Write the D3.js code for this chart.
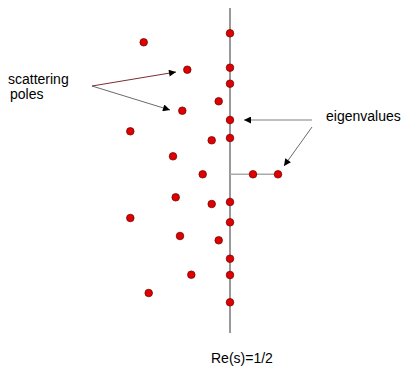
<!DOCTYPE html>
<html>
<head>
<meta charset="utf-8">
<script src="https://cdn.jsdelivr.net/npm/d3@7"></script>
<style>
  body { margin: 0; background: #fff; }
  text { font-family: "Liberation Sans", Arial, sans-serif; font-size: 14px; fill: #000; }
</style>
</head>
<body>
<div id="container"></div>
<script>
//positions, in plot units (roughly pixels)
var lineRe = 230;
var eigenIm = [33.3, 67.7, 83.7, 120, 138, 202, 222.3, 258.7, 275, 302.3];
var realEigenRe = [253, 278];
var realEigenIm = 174.3;
var poleRe = [143.7, 187.3, 218.7, 182.3, 130.3, 211.7, 173, 202.7, 175.7, 211.7, 130.3, 180, 218.7, 191.3, 148.7];
var poleIm = [42.3, 69.7, 101.3, 110.7, 131.3, 140.3, 156.3, 174.3, 197.3, 204, 218, 236, 240.3, 274.7, 293];

(function(){
    var width = 403, height = 366;

    var x = d3.scaleLinear().domain([0, 403]).range([0, width]);
    var y = d3.scaleLinear().domain([0, 366]).range([0, height]);

    var svg = d3.select("#container")
        .append("svg")
        .attr("width", width)
        .attr("height", height);

    var defs = svg.append("defs");
    defs.append("marker")
        .attr("id", "head")
        .attr("viewBox", "0 0 10 10")
        .attr("refX", 10).attr("refY", 5)
        .attr("markerWidth", 14).attr("markerHeight", 7)
        .attr("markerUnits", "userSpaceOnUse")
        .attr("orient", "auto")
        .append("path")
        .attr("d", "M0,0L10,5L0,10z")
        .attr("fill", "#000");

    //critical line Re(s)=1/2
    svg.append("line")
        .attr("x1", x(lineRe)).attr("x2", x(lineRe))
        .attr("y1", y(8)).attr("y2", y(333))
        .attr("stroke", "#555").attr("stroke-width", 1.2);

    //horizontal segment to the real eigenvalues
    svg.append("line")
        .attr("x1", x(lineRe)).attr("x2", x(d3.max(realEigenRe)))
        .attr("y1", y(realEigenIm)).attr("y2", y(realEigenIm))
        .attr("stroke", "#aaa").attr("stroke-width", 1.5);

    //arrows
    var arrows = [
        {x1: 92, y1: 86, x2: 176, y2: 72, c: "#7a3030", w: 1},
        {x1: 92, y1: 86, x2: 170, y2: 110, c: "#444", w: 0.8},
        {x1: 312, y1: 120, x2: 244, y2: 120, c: "#aaa", w: 1.5},
        {x1: 312, y1: 127, x2: 284, y2: 166, c: "#444", w: 0.8}
    ];
    svg.selectAll(".arrow")
        .data(arrows)
        .enter()
        .append("line")
        .attr("class", "arrow")
        .attr("x1", function(d){ return x(d.x1); })
        .attr("y1", function(d){ return y(d.y1); })
        .attr("x2", function(d){ return x(d.x2); })
        .attr("y2", function(d){ return y(d.y2); })
        .attr("stroke", function(d){ return d.c; })
        .attr("stroke-width", function(d){ return d.w; })
        .attr("marker-end", "url(#head)");

    function dots(data, cls){
        svg.selectAll("." + cls)
            .data(data)
            .enter()
            .append("circle")
            .attr("class", cls)
            .attr("cx", function(d){ return x(d[0]); })
            .attr("cy", function(d){ return y(d[1]); })
            .attr("r", 3.8)
            .attr("fill", "#e00000")
            .attr("stroke", "#600")
            .attr("stroke-width", 0.7);
    }

    dots(eigenIm.map(function(v){ return [lineRe, v]; }), "eigen");
    dots(realEigenRe.map(function(v){ return [v, realEigenIm]; }), "realEigen");
    dots(poleRe.map(function(v, i){ return [v, poleIm[i]]; }), "pole");

    //labels
    svg.append("text").attr("x", 8).attr("y", 84).text("scattering");
    svg.append("text").attr("x", 10).attr("y", 98.5).text("poles");
    svg.append("text").attr("x", 326).attr("y", 121).text("eigenvalues");
    svg.append("text").attr("x", 211).attr("y", 363).text("Re(s)=1/2");
})();
</script>
</body>
</html>
